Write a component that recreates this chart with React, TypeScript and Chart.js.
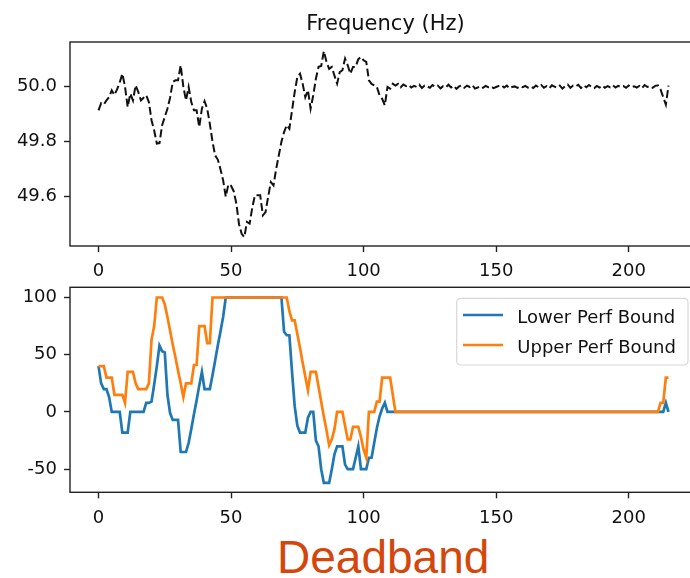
import React, { useEffect, useRef } from "react";
import { Chart, registerables } from "chart.js";

Chart.register(...registerables);

// ---------- data ----------
const timeSteps: number[] = Array.from({ length: 216 }, (_, i) => i);

const xTickValues = [0, 50, 100, 150, 200];
const freqTickValues = [49.6, 49.8, 50.0];
const boundTickValues = [-50, 0, 50, 100];

const frequencyHz = [
  // 0-9
  49.914, 49.94, 49.935, 49.95, 49.962, 49.987, 49.97, 49.99, 50.015, 50.047,
  // 10-19
  50.0, 49.926, 49.975, 49.95, 50.005, 49.981, 49.95, 49.96, 49.969, 49.944,
  // 20-29
  49.878, 49.841, 49.793, 49.795, 49.86, 49.89, 49.92, 49.96, 50.017, 50.023,
  // 30-39
  50.023, 50.078, 50.0, 49.95, 49.999, 49.944, 49.914, 49.914, 49.853, 49.92,
  // 40-49
  49.947, 49.92, 49.865, 49.8, 49.75, 49.735, 49.7, 49.66, 49.6, 49.645,
  // 50-59
  49.64, 49.62, 49.575, 49.5, 49.465, 49.453, 49.508, 49.502, 49.56, 49.605,
  // 60-69
  49.605, 49.605, 49.532, 49.544, 49.6, 49.653, 49.641, 49.7, 49.75, 49.8,
  // 70-79
  49.835, 49.86, 49.847, 49.914, 49.98, 50.035, 50.047, 50.011, 49.962, 49.987,
  // 80-89
  49.92, 49.969, 50.029, 50.072, 50.075, 50.129, 50.09, 50.065, 50.072, 50.04,
  // 90-99
  50.011, 50.053, 50.06, 50.102, 50.078, 50.047, 50.072, 50.072, 50.1, 50.108,
  // 100-109
  50.096, 50.09, 50.023, 50.01, 50.005, 49.999, 49.969, 49.956, 49.932, 49.999,
  // 110-119
  49.993, 50.011, 50.004, 50.01, 49.998, 50.008, 50.002, 50.006, 49.997, 50.003,
  // 120-129
  49.999, 50.007, 49.995, 50.004, 50.001, 49.996, 50.006, 50.0, 50.004, 49.994,
  // 130-139
  50.002, 49.998, 50.007, 49.997, 50.003, 49.992, 50.001, 50.005, 49.996, 50.004,
  // 140-149
  49.999, 50.006, 49.993, 49.997, 50.002, 49.996, 50.003, 49.998, 50.001, 49.995,
  // 150-159
  49.999, 50.003, 50.006, 49.997, 50.004, 49.994, 49.999, 50.001, 49.996, 50.002,
  // 160-169
  49.998, 50.003, 49.997, 50.001, 49.995, 50.004, 49.998, 50.006, 49.996, 50.002,
  // 170-179
  49.994, 50.005, 50.0, 49.997, 50.004, 49.993, 50.002, 50.008, 49.996, 50.004,
  // 180-189
  50.001, 50.007, 49.995, 50.005, 49.998, 50.006, 49.999, 49.995, 50.003, 49.997,
  // 190-199
  50.004, 49.996, 50.002, 49.998, 50.005, 49.997, 50.003, 49.999, 50.002, 49.996,
  // 200-209
  50.004, 49.998, 50.001, 49.997, 50.003, 49.995, 50.006, 49.999, 50.002, 49.996,
  // 210-215
  50.003, 50.005, 49.99, 49.962, 49.935, 50.004,
];

const lowerPerfBound = [
  40, 25, 20, 20, 13, 0, 0, 0, 0, -18, // 0-9
  -18, -18, 0, 0, 0, 0, 0, 0, 8, 8, // 10-19
  9, 24, 40, 58, 53, 52, 15, -1, -7, -7, // 20-29
  -7, -35, -35, -35, -27, -15, -2, 10, 23, 35, // 30-39
  20, 20, 20, 32, 45, 58, 70, 83, 100, 100, // 40-49
  100, 100, 100, 100, 100, 100, 100, 100, 100, 100, // 50-59
  100, 100, 100, 100, 100, 100, 100, 100, 100, 100, // 60-69
  70, 67, 67, 35, 5, -12, -18, -18, -18, -5, // 70-79
  0, 0, -25, -30, -50, -62, -62, -62, -50, -37, // 80-89
  -30, -30, -30, -46, -50, -50, -50, -40, -30, -50, // 90-99
  -50, -50, -40, -40, -27, -14, -4, 3, 8, 0, // 100-109
  0, 0, 0, 0, 0, 0, 0, 0, 0, 0, // 110-119
  0, 0, 0, 0, 0, 0, 0, 0, 0, 0, // 120-129
  0, 0, 0, 0, 0, 0, 0, 0, 0, 0, // 130-139
  0, 0, 0, 0, 0, 0, 0, 0, 0, 0, // 140-149
  0, 0, 0, 0, 0, 0, 0, 0, 0, 0, // 150-159
  0, 0, 0, 0, 0, 0, 0, 0, 0, 0, // 160-169
  0, 0, 0, 0, 0, 0, 0, 0, 0, 0, // 170-179
  0, 0, 0, 0, 0, 0, 0, 0, 0, 0, // 180-189
  0, 0, 0, 0, 0, 0, 0, 0, 0, 0, // 190-199
  0, 0, 0, 0, 0, 0, 0, 0, 0, 0, // 200-209
  0, 0, 0, 0, 8, 0, // 210-215
];

const upperPerfBound = [
  40, 40, 40, 30, 30, 30, 15, 15, 15, 15, // 0-9
  8, 35, 35, 35, 25, 20, 20, 20, 20, 25, // 10-19
  63, 75, 100, 100, 100, 94, 83, 71, 59, 48, // 20-29
  36, 25, 13, 25, 25, 25, 41, 41, 75, 75, // 30-39
  75, 60, 60, 100, 100, 100, 100, 100, 100, 100, // 40-49
  100, 100, 100, 100, 100, 100, 100, 100, 100, 100, // 50-59
  100, 100, 100, 100, 100, 100, 100, 100, 100, 100, // 60-69
  100, 100, 88, 80, 80, 68, 56, 43, 31, 19, // 70-79
  35, 35, 35, 22, 9, -4, -16, -29, -24, -15, // 80-89
  0, 0, 0, -12, -24, -24, -13, -13, -13, -22, // 90-99
  -33, -40, 0, 0, 0, 9, 9, 30, 30, 30, // 100-109
  30, 15, 0, 0, 0, 0, 0, 0, 0, 0, // 110-119
  0, 0, 0, 0, 0, 0, 0, 0, 0, 0, // 120-129
  0, 0, 0, 0, 0, 0, 0, 0, 0, 0, // 130-139
  0, 0, 0, 0, 0, 0, 0, 0, 0, 0, // 140-149
  0, 0, 0, 0, 0, 0, 0, 0, 0, 0, // 150-159
  0, 0, 0, 0, 0, 0, 0, 0, 0, 0, // 160-169
  0, 0, 0, 0, 0, 0, 0, 0, 0, 0, // 170-179
  0, 0, 0, 0, 0, 0, 0, 0, 0, 0, // 180-189
  0, 0, 0, 0, 0, 0, 0, 0, 0, 0, // 190-199
  0, 0, 0, 0, 0, 0, 0, 0, 0, 0, // 200-209
  0, 0, 8, 8, 30, 30, // 210-215
];

const topTitle = "Frequency (Hz)";
const bottomCaption = "Deadband";
const lowerLabel = "Lower Perf Bound";
const upperLabel = "Upper Perf Bound";

// ---------- styling ----------
const FAMILY = "'DejaVu Sans', sans-serif";
const INK = "#111111";
const FRAME = "#222222";
const BLUE = "#1f77b4";
const ORANGE = "#ff7f0e";

const toPoints = (ys: number[]) => ys.map((y, i) => ({ x: timeSteps[i], y }));

const framePlugin = {
  id: "frame",
  afterDraw(chart: any, _args: any, opts: any) {
    const { ctx, chartArea: a } = chart;
    ctx.save();
    ctx.strokeStyle = FRAME;
    ctx.lineWidth = 1.4;
    ctx.strokeRect(a.left, a.top, a.right - a.left, a.bottom - a.top);
    if (opts && opts.title) {
      ctx.fillStyle = INK;
      ctx.font = `21px ${FAMILY}`;
      ctx.textAlign = "center";
      ctx.textBaseline = "alphabetic";
      ctx.fillText(opts.title, (a.left + a.right) / 2 + 2, 30);
    }
    if (opts && opts.legend) {
      const w = 231.3;
      const h = 66.7;
      const x0 = a.right - 9 - w;
      const y0 = a.top + 11;
      const r = 4;
      ctx.beginPath();
      ctx.moveTo(x0 + r, y0);
      ctx.lineTo(x0 + w - r, y0);
      ctx.arcTo(x0 + w, y0, x0 + w, y0 + r, r);
      ctx.lineTo(x0 + w, y0 + h - r);
      ctx.arcTo(x0 + w, y0 + h, x0 + w - r, y0 + h, r);
      ctx.lineTo(x0 + r, y0 + h);
      ctx.arcTo(x0, y0 + h, x0, y0 + h - r, r);
      ctx.lineTo(x0, y0 + r);
      ctx.arcTo(x0, y0, x0 + r, y0, r);
      ctx.closePath();
      ctx.fillStyle = "rgba(255,255,255,0.8)";
      ctx.fill();
      ctx.strokeStyle = "rgba(204,204,204,0.8)";
      ctx.lineWidth = 1.2;
      ctx.stroke();
      const items = chart.data.datasets;
      items.forEach((ds: any, k: number) => {
        const ly = y0 + 16.7 + k * 30;
        ctx.beginPath();
        ctx.moveTo(x0 + 6.3, ly);
        ctx.lineTo(x0 + 46.3, ly);
        ctx.strokeStyle = ds.borderColor;
        ctx.lineWidth = 2.7;
        ctx.lineCap = "butt";
        ctx.stroke();
        ctx.fillStyle = INK;
        ctx.font = `18px ${FAMILY}`;
        ctx.textAlign = "left";
        ctx.textBaseline = "alphabetic";
        ctx.fillText(ds.label, x0 + 60.6, y0 + 24.4 + k * 30);
      });
    }
    ctx.restore();
  },
};

const zeroPadding = (s: any) => {
  s.paddingTop = 0;
  s.paddingBottom = 0;
  s.paddingLeft = 0;
  s.paddingRight = 0;
};

function axisX() {
  return {
    type: "linear" as const,
    min: -10.75,
    max: 225.75,
    afterBuildTicks: (s: any) => {
      s.ticks = xTickValues.map((v) => ({ value: v }));
    },
    afterFit: (s: any) => {
      s.height = 34;
      zeroPadding(s);
    },
    ticks: {
      font: { size: 18, family: FAMILY },
      color: INK,
      padding: 9,
      maxRotation: 0,
      autoSkip: false,
      callback: (v: any) => String(v),
    },
    grid: {
      display: true,
      drawOnChartArea: false,
      drawTicks: true,
      tickLength: 6,
      tickWidth: 1.4,
      tickColor: FRAME,
    },
    border: { display: false },
  };
}

function axisY(min: number, max: number, ticks: number[], digits: number) {
  return {
    type: "linear" as const,
    min,
    max,
    afterBuildTicks: (s: any) => {
      s.ticks = ticks.map((v) => ({ value: v }));
    },
    afterFit: (s: any) => {
      s.width = 70;
      zeroPadding(s);
    },
    ticks: {
      font: { size: 18, family: FAMILY },
      color: INK,
      padding: 7,
      autoSkip: false,
      callback: (v: any) => Number(v).toFixed(digits),
    },
    grid: {
      display: true,
      drawOnChartArea: false,
      drawTicks: true,
      tickLength: 6,
      tickWidth: 1.4,
      tickColor: FRAME,
    },
    border: { display: false },
  };
}

export default function App() {
  const topRef = useRef<HTMLCanvasElement | null>(null);
  const botRef = useRef<HTMLCanvasElement | null>(null);

  useEffect(() => {
    const top = new Chart(topRef.current as HTMLCanvasElement, {
      type: "line",
      data: {
        datasets: [
          {
            label: "Frequency",
            data: toPoints(frequencyHz),
            borderColor: "#111111",
            borderWidth: 2,
            borderDash: [8, 3.5],
            pointRadius: 0,
            tension: 0,
            fill: false,
          },
        ],
      },
      options: {
        animation: false,
        responsive: false,
        devicePixelRatio: 1,
        layout: { padding: { top: 42, left: 0, right: 23, bottom: 0 } },
        plugins: {
          legend: { display: false },
          tooltip: { enabled: false },
          title: { display: false },
          frame: { title: topTitle },
        } as any,
        scales: {
          x: axisX(),
          y: axisY(49.4207, 50.1625, freqTickValues, 1),
        } as any,
      },
      plugins: [framePlugin],
    });

    const bottom = new Chart(botRef.current as HTMLCanvasElement, {
      type: "line",
      data: {
        datasets: [
          {
            label: lowerLabel,
            data: toPoints(lowerPerfBound),
            borderColor: BLUE,
            borderWidth: 2.7,
            pointRadius: 0,
            tension: 0,
            fill: false,
            order: 1,
          },
          {
            label: upperLabel,
            data: toPoints(upperPerfBound),
            borderColor: ORANGE,
            borderWidth: 2.7,
            pointRadius: 0,
            tension: 0,
            fill: false,
            order: 0,
          },
        ],
      },
      options: {
        animation: false,
        responsive: false,
        devicePixelRatio: 1,
        layout: { padding: { top: 7.3, left: 0, right: 23, bottom: 0.7 } },
        plugins: {
          legend: { display: false },
          tooltip: { enabled: false },
          title: { display: false },
          frame: { legend: true },
        } as any,
        scales: {
          x: axisX(),
          y: axisY(-70.2, 108.9, boundTickValues, 0),
        } as any,
      },
      plugins: [framePlugin],
    });

    return () => {
      top.destroy();
      bottom.destroy();
    };
  }, []);

  return (
    <div
      style={{
        position: "absolute",
        left: 0,
        top: 0,
        width: 690,
        height: 578,
        overflow: "hidden",
        background: "#ffffff",
      }}
    >
      <canvas
        ref={topRef}
        width={720}
        height={280}
        style={{ position: "absolute", left: 0, top: 0, width: 720, height: 280 }}
      />
      <canvas
        ref={botRef}
        width={720}
        height={247}
        style={{ position: "absolute", left: 0, top: 280, width: 720, height: 247 }}
      />
      <div
        style={{
          position: "absolute",
          left: 277,
          top: 534,
          fontFamily: "'Liberation Sans', Arial, sans-serif",
          fontSize: 46,
          lineHeight: "46px",
          color: "#d4470c",
          whiteSpace: "nowrap",
        }}
      >
        {bottomCaption}
      </div>
    </div>
  );
}
